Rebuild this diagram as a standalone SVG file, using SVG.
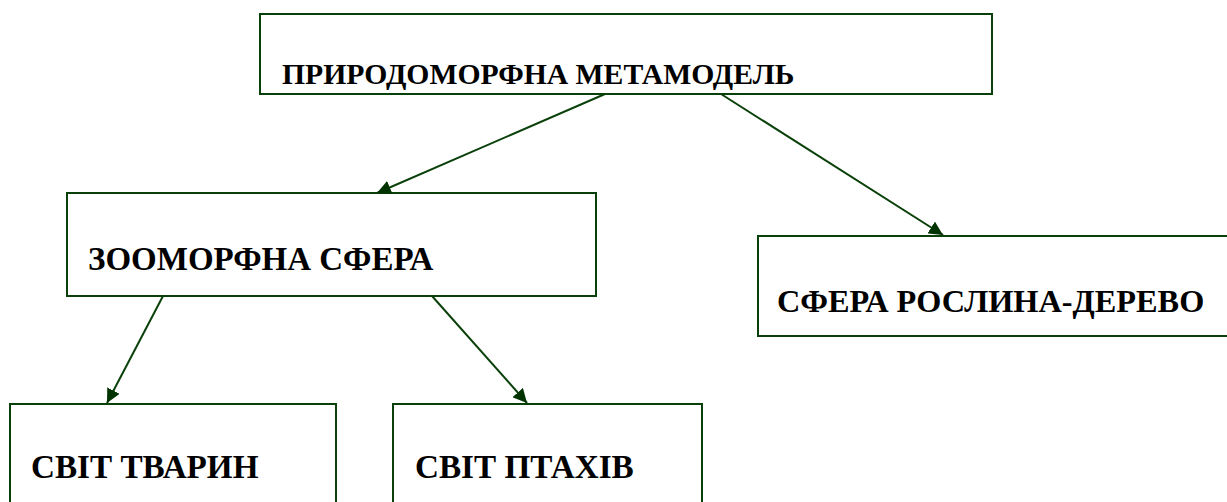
<svg xmlns="http://www.w3.org/2000/svg" width="1227" height="502" viewBox="0 0 1227 502">
<defs>
<style>
.box{fill:#fff;stroke:#0a400a;stroke-width:2}
.lbl{font-family:'Liberation Serif','DejaVu Serif','Times New Roman',serif;font-weight:bold;fill:#000}
.con{stroke:#0a400a;stroke-width:2;fill:none;marker-end:url(#ah)}
</style>
<marker id="ah" viewBox="0 0 14 14" refX="14" refY="7" markerWidth="14" markerHeight="14" markerUnits="userSpaceOnUse" orient="auto">
<path d="M0,0 L14,7 L0,14 z" fill="#003300"/>
</marker>
</defs>
<rect width="1227" height="502" fill="#fff"/>
<g id="n-top">
<rect class="box" x="260" y="14" width="732" height="80"/>
<text class="lbl" x="282" y="84" font-size="29.7">ПРИРОДОМОРФНА МЕТАМОДЕЛЬ</text>
</g>
<g id="n-zoo">
<rect class="box" x="67" y="193" width="529" height="103"/>
<text class="lbl" x="88" y="270" font-size="33">ЗООМОРФНА СФЕРА</text>
</g>
<g id="n-plant">
<rect class="box" x="758" y="236" width="475" height="100"/>
<text class="lbl" x="777" y="312" font-size="32.3">СФЕРА РОСЛИНА-ДЕРЕВО</text>
</g>
<g id="n-animals">
<rect class="box" x="10" y="404" width="326" height="110"/>
<text class="lbl" x="31" y="478" font-size="33.2">СВІТ ТВАРИН</text>
</g>
<g id="n-birds">
<rect class="box" x="393" y="404" width="309" height="110"/>
<text class="lbl" x="415" y="478" font-size="33.2">СВІТ ПТАХІВ</text>
</g>
<g id="connectors">
<line class="con" x1="605" y1="94" x2="377" y2="193"/>
<line class="con" x1="721" y1="94" x2="943" y2="235"/>
<line class="con" x1="163" y1="296" x2="107" y2="403"/>
<line class="con" x1="432" y1="296" x2="527" y2="403"/>
</g>
</svg>
